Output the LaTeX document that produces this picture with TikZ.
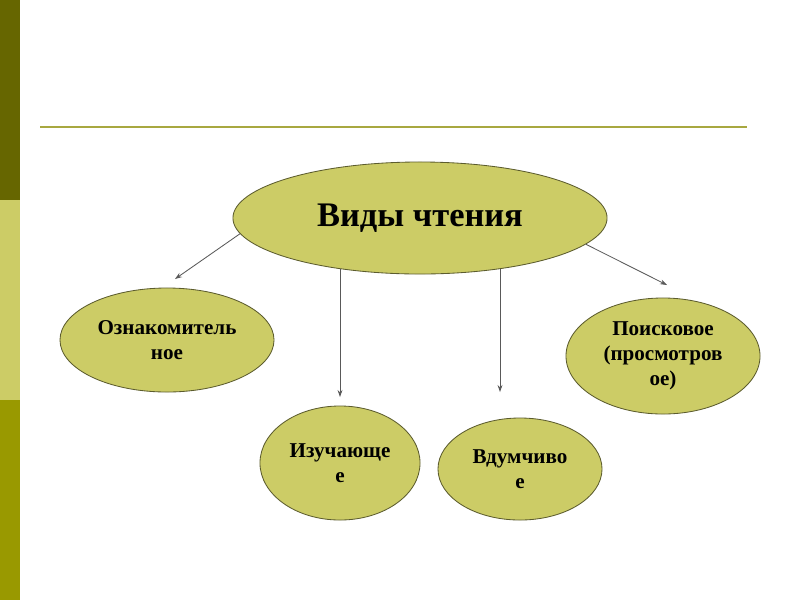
\documentclass[tikz,border=0pt]{standalone}
\usepackage{fontspec}
\setmainfont{Liberation Serif}
\usepackage{xcolor}
\usetikzlibrary{arrows.meta, positioning, shapes.geometric}

\definecolor{oliveDark}{HTML}{666600}
\definecolor{oliveLight}{HTML}{CCCC66}
\definecolor{oliveMid}{HTML}{999900}
\definecolor{ruleLine}{HTML}{A8A840}
\definecolor{ellBorder}{HTML}{5C5C2E}

\begin{document}
\begin{tikzpicture}[
  x=0.025cm, y=-0.025cm,
  kind/.style={ellipse, draw=ellBorder, line width=0.6pt, fill=oliveLight, align=center, inner sep=0pt, font=\fontsize{15}{18}\selectfont\bfseries},
  arr/.style={-{Stealth[length=5pt, width=3.5pt]}, draw=black!65, line width=0.6pt}
]
\useasboundingbox (0,0) rectangle (800,600);

\fill[oliveDark] (0,0) rectangle (20,200);
\fill[oliveLight] (0,200) rectangle (20,400);
\fill[oliveMid] (0,400) rectangle (20,600);
\draw[ruleLine, line width=1.5pt] (40,127) -- (747,127);

\node[kind, minimum width=9.35cm, minimum height=2.8cm, font=\fontsize{24.5}{28}\selectfont\bfseries] (types) at (420,218) {Виды чтения};
\node[kind, minimum width=5.35cm, minimum height=2.6cm] (intro) at (167,340) {Ознакомитель\\ное};
\node[kind, minimum width=4cm, minimum height=2.85cm] (study) at (340,463) {Изучающе\\е};
\node[kind, minimum width=4.1cm, minimum height=2.55cm] (deep) at (520,469) {Вдумчиво\\е};
\node[kind, minimum width=4.85cm, minimum height=2.9cm] (search) at (663,356) {Поисковое\\(просмотров\\ое)};

\coordinate (introTip) at (175,279);
\coordinate (studyTip) at (340,397);
\coordinate (deepTip) at (500,392);
\coordinate (searchTip) at (667,285);

\draw[arr] (types.185) -- (introTip);
\draw[arr] (types.212 -| studyTip) -- (studyTip);
\draw[arr] (types.328 -| deepTip) -- (deepTip);
\draw[arr] (types.351) -- (searchTip);
\end{tikzpicture}
\end{document}
